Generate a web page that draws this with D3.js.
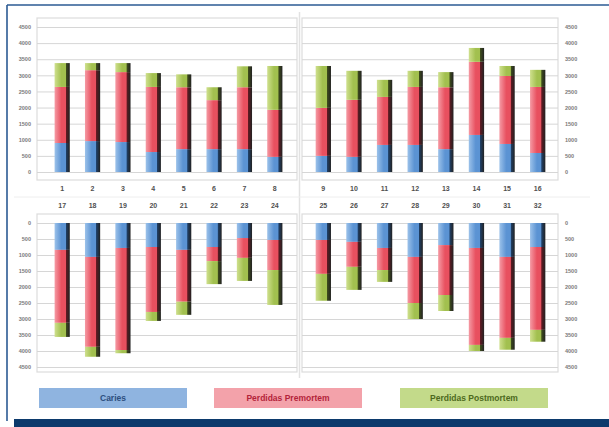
<!DOCTYPE html>
<html>
<head>
<meta charset="utf-8">
<script src="https://cdn.jsdelivr.net/npm/d3@7"></script>
<style>
  html, body { margin: 0; padding: 0; background: #fff; }
  svg { display: block; font-family: "Liberation Sans", Arial, sans-serif; }
  .grid line { stroke: #d6d6d6; }
  .grid text { fill: #7a7a7a; font-size: 5.5px; font-weight: bold; }
  .cat text { fill: #505050; font-size: 7px; font-weight: bold; }
</style>
</head>
<body>
<svg width="609" height="427"></svg>
<script>
// teeth numbers, upper arch then lower arch
const teethUpperLeft  = ['1', '2', '3', '4', '5', '6', '7', '8'];
const teethUpperRight = ['9', '10', '11', '12', '13', '14', '15', '16'];
const teethLowerLeft  = ['17', '18', '19', '20', '21', '22', '23', '24'];
const teethLowerRight = ['25', '26', '27', '28', '29', '30', '31', '32'];

// values per tooth, in the same order (1..32)
const caries     = [900, 960, 930, 620, 710, 710, 710, 470,
                    500, 470, 840, 840, 710, 1150, 870, 590,
                    840, 1060, 780, 750, 840, 750, 470, 530,
                    530, 590, 780, 1060, 690, 780, 1060, 750];
const premortem  = [1740, 2200, 2170, 2020, 1920, 1520, 1920, 1460,
                    1490, 1770, 1490, 1800, 1920, 2270, 2110, 2050,
                    2280, 2810, 3190, 2030, 1620, 440, 620, 940,
                    1060, 780, 690, 1440, 1560, 3030, 2530, 2590];
const postmortem = [740, 220, 280, 430, 400, 400, 650, 1360,
                    1300, 900, 530, 500, 470, 430, 310, 530,
                    440, 310, 100, 280, 410, 720, 720, 1090,
                    840, 720, 370, 500, 500, 190, 370, 370];

const yTicks = [0, 500, 1000, 1500, 2000, 2500, 3000, 3500, 4000, 4500];
const seriesKeys = ['caries', 'premortem', 'postmortem'];
const seriesNames = ['Caries', 'Perdidas Premortem', 'Perdidas Postmortem'];

const svg = d3.select('svg');

// colours: light / base / dark per series
const colors = {
    caries:     ['#9cc2ea', '#5b93d3', '#1f3f66'],
    premortem:  ['#f59aa4', '#e8505f', '#5e1a22'],
    postmortem: ['#cfe08e', '#a2c04f', '#3e4c1c']
};

const defs = svg.append('defs');
seriesKeys.forEach(k => {
    const g = defs.append('linearGradient')
        .attr('id', 'grad-' + k)
        .attr('x1', '0%').attr('x2', '100%')
        .attr('y1', '0%').attr('y2', '0%');
    g.append('stop').attr('offset', '0%').attr('stop-color', colors[k][0]);
    g.append('stop').attr('offset', '45%').attr('stop-color', colors[k][1]);
    g.append('stop').attr('offset', '72%').attr('stop-color', colors[k][1]);
    g.append('stop').attr('offset', '76%').attr('stop-color', colors[k][2]);
    g.append('stop').attr('offset', '100%').attr('stop-color', '#222');
});

// page frame
svg.append('rect').attr('width', 609).attr('height', 427).attr('fill', '#fff');
svg.append('line').attr('x1', 7).attr('x2', 609).attr('y1', 5).attr('y2', 5)
    .attr('stroke', '#2b5a93').attr('stroke-width', 1.6);
svg.append('line').attr('x1', 7).attr('x2', 7).attr('y1', 5).attr('y2', 421)
    .attr('stroke', '#2b5a93').attr('stroke-width', 1.6);
svg.append('rect').attr('x', 14).attr('y', 419).attr('width', 595).attr('height', 8)
    .attr('fill', '#0c3a6c');

// build rows for each tooth
const rows = caries.map((c, i) => ({
    tooth: String(i + 1),
    caries: c,
    premortem: premortem[i],
    postmortem: postmortem[i]
}));
const stacked = d3.stack().keys(seriesKeys)(rows);

const panels = [
    { teeth: teethUpperLeft,  x0: 37,  x1: 297, range: [47, 290],  top: true,  side: 'left' },
    { teeth: teethUpperRight, x0: 302, x1: 558, range: [308, 553], top: true,  side: 'right' },
    { teeth: teethLowerLeft,  x0: 37,  x1: 297, range: [47, 290],  top: false, side: 'left' },
    { teeth: teethLowerRight, x0: 302, x1: 558, range: [308, 553], top: false, side: 'right' }
];

panels.forEach(p => {
    const y = d3.scaleLinear()
        .domain([0, 4500])
        .range(p.top ? [172, 27] : [223, 367]);
    const x = d3.scaleBand()
        .domain(p.teeth)
        .range(p.range)
        .paddingInner(0.5)
        .paddingOuter(0.25);

    const frameTop = p.top ? 18 : 214;
    const frameBottom = p.top ? 180 : 372;

    // plot frame
    svg.append('rect')
        .attr('x', p.x0).attr('y', frameTop)
        .attr('width', p.x1 - p.x0).attr('height', frameBottom - frameTop)
        .attr('fill', 'none').attr('stroke', '#dcdcdc').attr('stroke-width', 1.2);

    // gridlines + value labels
    const axis = p.side === 'left' ? d3.axisLeft(y) : d3.axisRight(y);
    axis.tickValues(yTicks)
        .tickSizeInner(-(p.x1 - p.x0))
        .tickSizeOuter(0)
        .tickPadding(p.side === 'left' ? 6 : 7)
        .tickFormat(d3.format('d'));
    svg.append('g')
        .attr('class', 'grid')
        .attr('transform', `translate(${p.side === 'left' ? p.x0 : p.x1},0)`)
        .call(axis)
        .call(g => g.select('.domain').remove());

    // stacked bars
    const idx = p.teeth.map(t => +t - 1);
    stacked.forEach(layer => {
        svg.append('g')
            .selectAll('rect')
            .data(idx.map(i => layer[i]))
            .join('rect')
            .attr('x', d => x(d.data.tooth))
            .attr('width', x.bandwidth())
            .attr('y', d => Math.min(y(d[0]), y(d[1])))
            .attr('height', d => Math.abs(y(d[1]) - y(d[0])))
            .attr('fill', `url(#grad-${layer.key})`);
    });

    // tooth labels
    const catAxis = (p.top ? d3.axisBottom(x) : d3.axisTop(x))
        .tickSize(0)
        .tickPadding(p.top ? 5 : 4);
    svg.append('g')
        .attr('class', 'cat')
        .attr('transform', `translate(0,${p.top ? 181 : 212})`)
        .call(catAxis)
        .call(g => g.select('.domain').remove());
});

// divider lines between panels
svg.append('line').attr('x1', 299.5).attr('x2', 299.5).attr('y1', 12).attr('y2', 378)
    .attr('stroke', '#e2e2e2').attr('stroke-width', 1.5);
svg.append('line').attr('x1', 14).attr('x2', 590).attr('y1', 197).attr('y2', 197)
    .attr('stroke', '#eeeeee').attr('stroke-width', 1);

// legend
const legendX = [39, 214, 400];
const legendFill = ['#8fb4e0', '#f3a2aa', '#c3da8a'];
const legendText = ['#2d4f7f', '#b3243a', '#4d6a1d'];
const legend = svg.append('g');
seriesNames.forEach((name, i) => {
    legend.append('rect')
        .attr('x', legendX[i]).attr('y', 388)
        .attr('width', 148).attr('height', 20)
        .attr('fill', legendFill[i]);
    legend.append('text')
        .attr('x', legendX[i] + 74).attr('y', 401)
        .attr('text-anchor', 'middle')
        .attr('font-size', 8.5).attr('font-weight', 'bold')
        .attr('fill', legendText[i])
        .text(name);
});
</script>
</body>
</html>
